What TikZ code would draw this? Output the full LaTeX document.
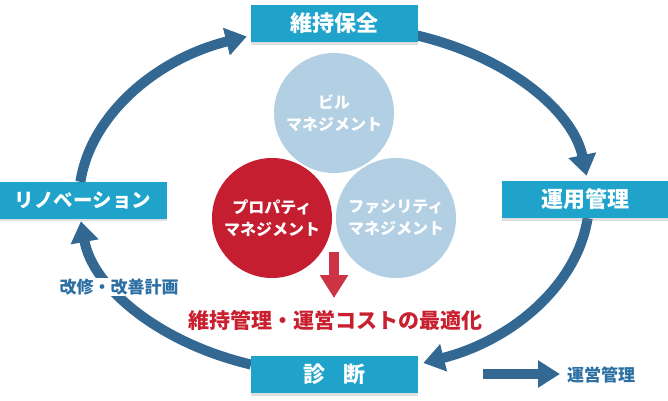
\documentclass[tikz,border=0pt]{standalone}
\usepackage{fontspec}
\setmainfont{Noto Sans CJK JP}
\usetikzlibrary{arrows.meta,calc,shadows}
\definecolor{boxc}{HTML}{1FA3CB}
\definecolor{cycc}{HTML}{336892}
\definecolor{lightc}{HTML}{B3CFE3}
\definecolor{redc}{HTML}{C41E30}
\definecolor{redar}{HTML}{CC3344}
\definecolor{redtx}{HTML}{C8202F}
\definecolor{labc}{HTML}{2B6FA3}
\begin{document}
\begin{tikzpicture}[x=1pt,y=-1pt,
  stage/.style={fill=boxc, text=white, font=\bfseries\fontsize{22}{24}\selectfont,
    minimum width=167pt, minimum height=37pt, inner sep=0pt,
    drop shadow={shadow xshift=0pt, shadow yshift=-2.5pt, opacity=0.25}},
  cyc/.style={draw=cycc, line width=10pt, -{Triangle[length=21pt,width=27pt]}},
  bubble/.style={circle, minimum size=120pt, inner sep=0pt, text=white, align=center,
    font=\bfseries\fontsize{16}{22}\selectfont},
  lab/.style={inner sep=0pt, text=labc, font=\bfseries\fontsize{17}{19}\selectfont}]
\useasboundingbox (0,0) rectangle (668,400);

% cycle arrows
\coordinate (o) at (334,200);
\coordinate (s1) at ($(o)+(-174:255 and 174)$);
\coordinate (s2) at ($(o)+(-71:255 and 174)$);
\coordinate (s3) at ($(o)+(6:255 and 174)$);
\coordinate (s4) at ($(o)+(109:255 and 174)$);
\draw[cyc] (s1) arc[start angle=-174, end angle=-110, x radius=255, y radius=174];
\draw[cyc] (s2) arc[start angle=-71, end angle=-8, x radius=255, y radius=174];
\draw[cyc] (s3) arc[start angle=6, end angle=69.5, x radius=255, y radius=174];
\draw[cyc] (s4) arc[start angle=109, end angle=173, x radius=255, y radius=174];

% stage boxes
\node[stage] (hoz) at (334.5,23.5) {維持保全};
\node[stage] (unyo) at (585,199.5) {運用管理};
\node[stage, font=\bfseries\fontsize{19.5}{22}\selectfont] (reno) at (83,200) {リノベーション};
\node[stage] (shin) at (334.5,374.5) {診\hspace{18pt}断};

% bubbles
\node[bubble, fill=lightc] (bm) at (334,113) {ビル\\マネジメント};
\node[bubble, fill=redc] (pm) at (272,218) {プロパティ\\マネジメント};
\node[bubble, fill=lightc] (fm) at (396,218) {ファシリティ\\マネジメント};

% red arrow and result
\coordinate (ra) at (334,252);
\coordinate (rb) at (334,298);
\draw[draw=redar, line width=10pt, -{Triangle[length=23pt,width=27pt]}] (ra) -- (rb);
\node[inner sep=0pt, text=redtx, font=\bfseries\fontsize{21}{23}\selectfont] (opt) at (335,320) {維持管理・運営コストの最適化};

% labels
\node[lab, fill=white, inner sep=1pt] (kaishu) at (119,287) {改修・改善計画};
\coordinate (la) at (483,374);
\coordinate (lb) at (560,374);
\draw[draw=cycc, line width=10pt, -{Triangle[length=22pt,width=26pt]}] (la) -- (lb);
\node[lab] (unei) at (601,375) {運営管理};
\end{tikzpicture}
\end{document}
